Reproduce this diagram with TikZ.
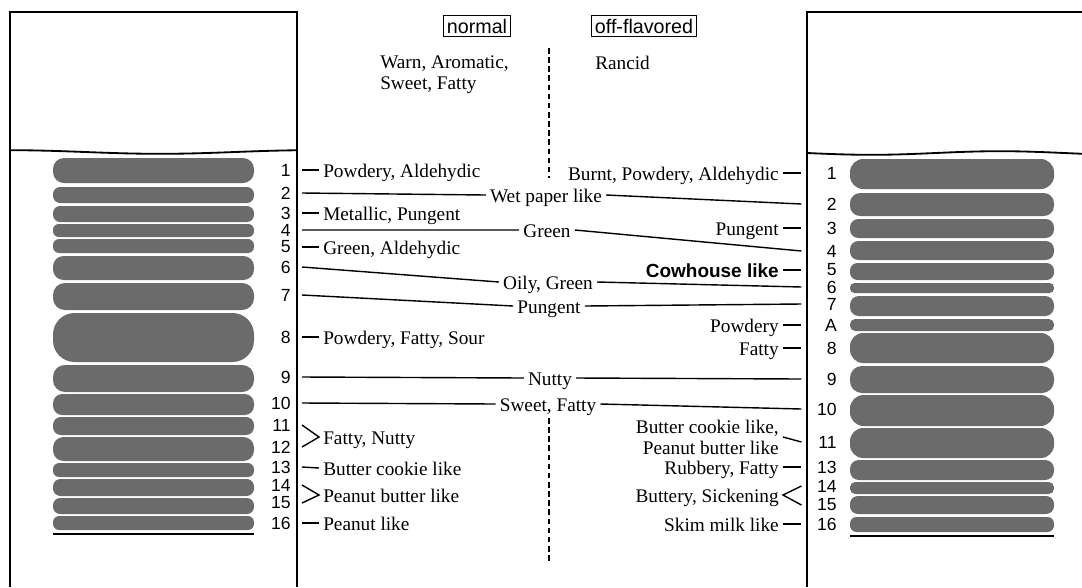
\documentclass[tikz,border=0pt]{standalone}
\usepackage{fontspec}
\setmainfont{Liberation Serif}
\setsansfont{Liberation Sans}
\begin{document}
\begin{tikzpicture}[x=0.25mm, y=-0.25mm,
    txt/.style={font=\fontsize{13.7}{15}\selectfont, inner xsep=1mm, inner ysep=0pt},
    lab/.style={txt, text height=12pt, text depth=1pt},
    num/.style={font=\sffamily\fontsize{12.5}{13}\selectfont, text width=6mm, align=right, inner xsep=2.75mm, inner ysep=0pt, anchor=east},
    tag/.style={draw, line width=0.9pt, font=\sffamily\fontsize{14}{16}\selectfont, inner xsep=0.9mm, inner ysep=0.8mm},
    link/.style={line width=1pt},
    panel/.style={line width=1.3pt},
    band/.style={fill=black!58}]
    \useasboundingbox (0,0) rectangle (1082,587);

    % plates
    \draw[panel] (10,587) -- (10,12) -- (297,12) -- (297,587);
    \draw[panel] plot[domain=10:297, samples=50, smooth] (\x, {152-1.8*cos(1.2*(\x-10))});
    \draw[panel] (807,587) -- (807,12) -- (1082,12);
    \draw[panel] plot[domain=807:1082, samples=50, smooth] (\x, {153+1.8*sin(1.4*(\x-807))});

    % spots, normal
    \foreach \t/\b in {158/183, 187/203, 206/222, 224/237, 239/253, 256/280, 283/310,
        313/362, 365/392, 394/415, 417/435, 437/461, 463/477, 479/496, 498/514, 516/530}
    {
        \pgfmathsetmacro\r{(\b-\t)*0.11}
        \fill[band, rounded corners=\r mm] (53,\t) rectangle (254,\b);
    }
    \draw[line width=1.5pt] (53,534) -- (254,534);

    % spots, off-flavored
    \foreach \t/\b in {159/189, 193/216, 219/238, 241/260, 263/280, 283/293, 296/316, 319/331,
        333/363, 366/393, 395/426, 428/458, 460/480, 482/494, 496/514, 517/532}
    {
        \pgfmathsetmacro\r{(\b-\t)*0.11}
        \fill[band, rounded corners=\r mm] (850,\t) rectangle (1054,\b);
    }
    \draw[line width=1.5pt] (850,536) -- (1054,536);

    % spot numbers
    \foreach \n/\y in {1/170, 2/193, 3/213, 4/230, 5/247, 6/267, 7/295, 8/337,
        9/377, 10/403, 11/425, 12/447, 13/467, 14/485, 15/503, 16/523}
        \node[num] (L\n) at (302,\y) {\n};
    \foreach \n/\y in {1/173, 2/204, 3/228, 4/251, 5/270, 6/287, 7/304, A/325,
        8/348, 9/379, 10/409, 11/442, 13/467, 14/486, 15/505, 16/524}
        \node[num] (R\n) at (848,\y) {\n};

    % headings
    \node[tag] (normal) at (477,26) {normal};
    \node[tag] (off) at (644,26) {off-flavored};
    \node[txt, align=left, anchor=west] (warm) at (376,75) {Warn, Aromatic,\\Sweet, Fatty};
    \node[lab, anchor=west] (rancid) at (591,62) {Rancid};
    \draw[line width=0.9pt, dash pattern=on 4pt off 2.5pt] (549,48) -- (549,178);
    \draw[line width=0.9pt, dash pattern=on 4pt off 2.5pt] (549,418) -- (549,562);

    % normal side
    \node[lab, anchor=west] (pa) at (319,170) {Powdery, Aldehydic};
    \node[lab, anchor=west] (mp) at (319,213) {Metallic, Pungent};
    \node[lab, anchor=west] (ga) at (319,247) {Green, Aldehydic};
    \node[lab, anchor=west] (pfs) at (319,337) {Powdery, Fatty, Sour};
    \node[lab, anchor=west] (fn) at (319,437) {Fatty, Nutty};
    \node[lab, anchor=west] (bc) at (319,468) {Butter cookie like};
    \node[lab, anchor=west] (pb) at (319,495) {Peanut butter like};
    \node[lab, anchor=west] (pl) at (319,523) {Peanut like};
    \draw[link] (L1.east) -- (pa.west);
    \draw[link] (L3.east) -- (mp.west);
    \draw[link] (L5.east) -- (ga.west);
    \draw[link] (L8.east) -- (pfs.west);
    \draw[link] (L11.east) -- (fn.west) -- (L12.east);
    \draw[link] (L13.east) -- (bc.west);
    \draw[link] (L14.east) -- (pb.west) -- (L15.east);
    \draw[link] (L16.east) -- (pl.west);

    % shared
    \node[lab] (wet) at (546,195) {Wet paper like};
    \node[lab] (green) at (547,230) {Green};
    \node[lab] (oily) at (548,282) {Oily, Green};
    \node[lab] (pung) at (549,306) {Pungent};
    \node[lab] (nutty) at (550,378) {Nutty};
    \node[lab] (sweet) at (548,404) {Sweet, Fatty};
    \draw[link] (L2.east) -- (wet.west) (wet.east) -- (R2.west);
    \draw[link] (L4.east) -- (green.west) (green.east) -- (R4.west);
    \draw[link] (L6.east) -- (oily.west) (oily.east) -- (R6.west);
    \draw[link] (L7.east) -- (pung.west) (pung.east) -- (R7.west);
    \draw[link] (L9.east) -- (nutty.west) (nutty.east) -- (R9.west);
    \draw[link] (L10.east) -- (sweet.west) (sweet.east) -- (R10.west);

    % off-flavored side
    \node[lab, anchor=east] (bpa) at (783,173) {Burnt, Powdery, Aldehydic};
    \node[lab, anchor=east] (pu) at (783,228) {Pungent};
    \node[lab, anchor=east, font=\sffamily\bfseries\fontsize{13.5}{15}\selectfont] (cow) at (783,270) {Cowhouse like};
    \node[lab, anchor=east] (pw) at (783,325) {Powdery};
    \node[lab, anchor=east] (fa) at (783,348) {Fatty};
    \node[txt, align=right, anchor=east] (bcpb) at (783,437) {Butter cookie like,\\Peanut butter like};
    \node[lab, anchor=east] (rf) at (783,467) {Rubbery, Fatty};
    \node[lab, anchor=east] (bs) at (783,495) {Buttery, Sickening};
    \node[lab, anchor=east] (sm) at (783,524) {Skim milk like};
    \draw[link] (bpa.east) -- (R1.west);
    \draw[link] (pu.east) -- (R3.west);
    \draw[link] (cow.east) -- (R5.west);
    \draw[link] (pw.east) -- (RA.west);
    \draw[link] (fa.east) -- (R8.west);
    \draw[link] (bcpb.east) -- (R11.west);
    \draw[link] (rf.east) -- (R13.west);
    \draw[link] (R14.west) -- (bs.east) -- (R15.west);
    \draw[link] (sm.east) -- (R16.west);
\end{tikzpicture}
\end{document}
